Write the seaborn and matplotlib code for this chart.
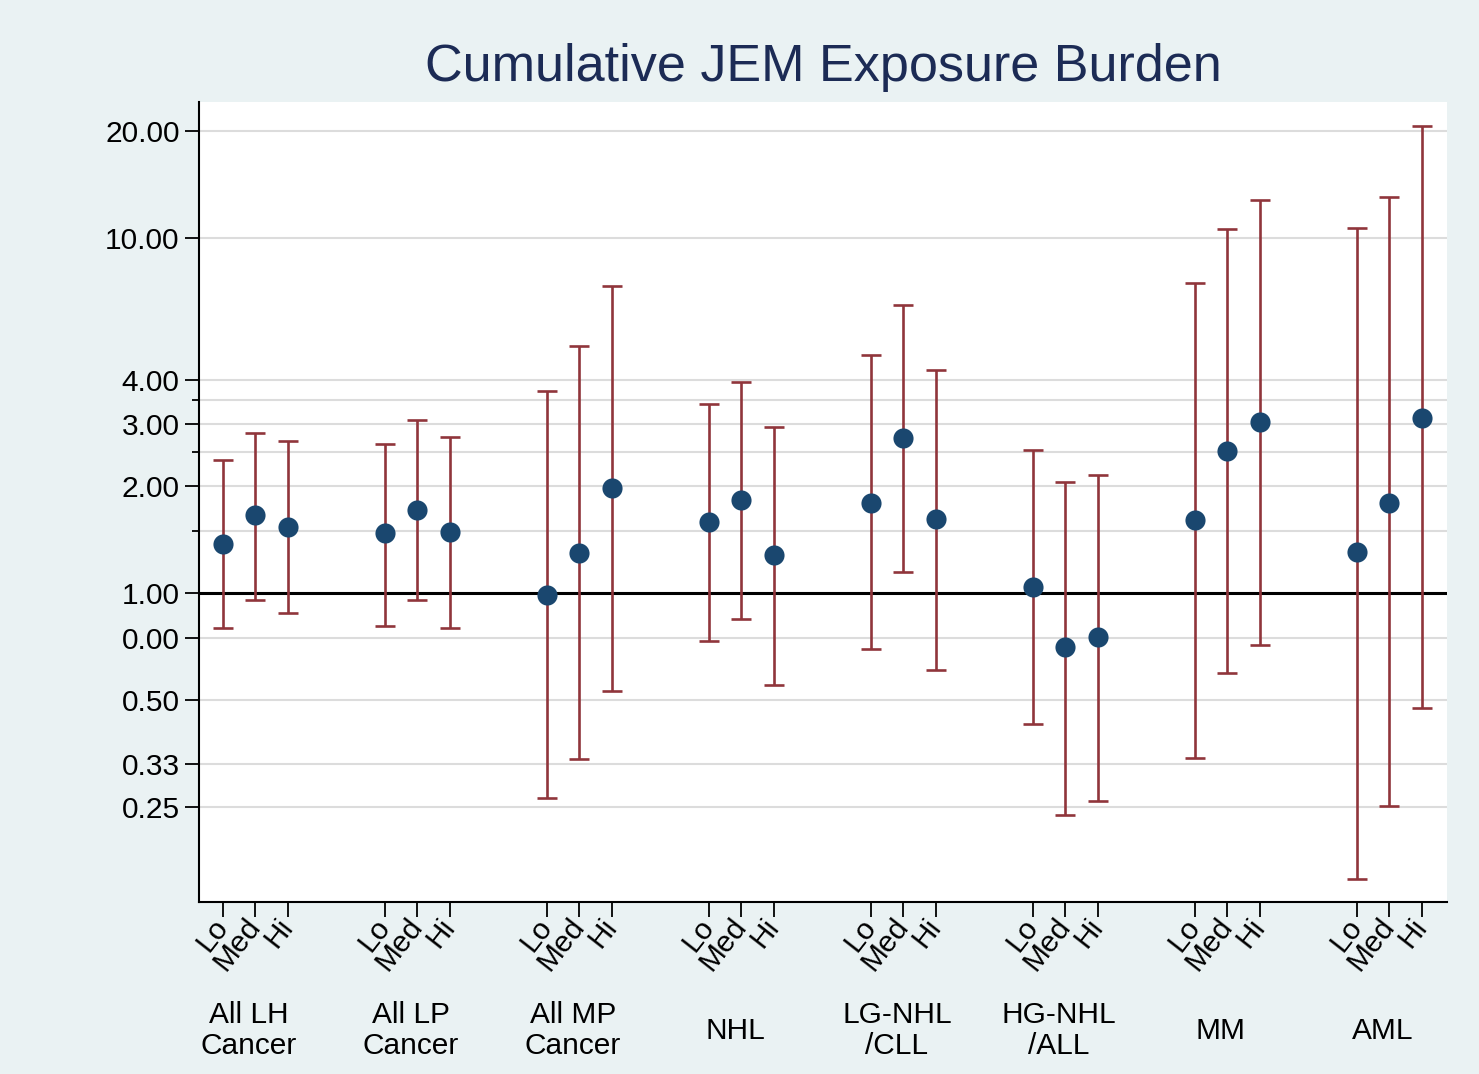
import numpy as np
import pandas as pd
import matplotlib
matplotlib.use("Agg")
import matplotlib.pyplot as plt
import matplotlib.transforms as mtransforms
import seaborn as sns

# ---- data ----
groups = ["All LH\nCancer", "All LP\nCancer", "All MP\nCancer", "NHL",
          "LG-NHL\n/CLL", "HG-NHL\n/ALL", "MM", "AML"]
levels = ["Lo", "Med", "Hi"]
estimate = [1.38, 1.66, 1.54,
            1.48, 1.72, 1.49,
            0.99, 1.30, 1.98,
            1.59, 1.83, 1.28,
            1.80, 2.73, 1.62,
            1.04, 0.705, 0.752,
            1.61, 2.51, 3.03,
            1.31, 1.80, 3.11]
ci_low = [0.80, 0.96, 0.88,
          0.81, 0.96, 0.80,
          0.265, 0.341, 0.530,
          0.732, 0.845, 0.551,
          0.695, 1.146, 0.607,
          0.428, 0.238, 0.260,
          0.343, 0.595, 0.714,
          0.157, 0.251, 0.474]
ci_high = [2.37, 2.82, 2.68,
           2.63, 3.07, 2.75,
           3.71, 4.96, 7.32,
           3.41, 3.93, 2.94,
           4.68, 6.48, 4.25,
           2.53, 2.06, 2.16,
           7.47, 10.6, 12.8,
           10.7, 13.05, 20.7]
ytick_vals = [0.25, 0.33, 0.5, 0.75, 1, 2, 3, 4, 10, 20]
ytick_labels = ["0.25", "0.33", "0.50", "0.00", "1.00", "2.00", "3.00", "4.00", "10.00", "20.00"]
yminor_vals = [1.5, 2.5, 3.5]
title = "Cumulative JEM Exposure Burden"

# ---- build table ----
rows = []
for gi, g in enumerate(groups):
    for li, lv in enumerate(levels):
        k = gi * 3 + li
        rows.append(dict(group=g, level=lv, x=gi * 5 + li,
                         est=estimate[k], lo=ci_low[k], hi=ci_high[k]))
df = pd.DataFrame(rows)

sns.set_theme(style="white")
plt.rcParams['font.family'] = ['Liberation Sans', 'DejaVu Sans']

BG = "#EAF2F3"
NAVY = "#1a476f"
TITLE = "#1c2b55"
RED = "#90353b"
FS = 21.5

fig = plt.figure(figsize=(14.79, 10.74), dpi=100, facecolor=BG)
W, H = 1479, 1074
ax = fig.add_axes([199 / W, (H - 902) / H, (1447 - 199) / W, (902 - 102) / H])
ax.set_facecolor("white")
ax.set_yscale("log")

# gridlines
for v in ytick_vals + yminor_vals:
    ax.axhline(v, color="#dcdcdc", lw=1.5, zorder=0)
ax.axhline(1.0, color="black", lw=2.2, zorder=1)

# error bars
ax.errorbar(df["x"], df["est"],
            yerr=[df["est"] - df["lo"], df["hi"] - df["est"]],
            fmt="none", ecolor=RED, elinewidth=1.9, capsize=7.5, capthick=1.9, zorder=2)
# points
sns.scatterplot(data=df, x="x", y="est", ax=ax, color=NAVY, s=210,
                edgecolor=NAVY, linewidth=0, zorder=3, legend=False)

ax.set_xlim(-0.74, 37.78)
ax.set_ylim(0.135, 24.2)

ax.set_yticks(ytick_vals)
ax.set_yticklabels(ytick_labels)
ax.set_yticks(yminor_vals, minor=True)
ax.yaxis.set_minor_formatter(matplotlib.ticker.NullFormatter())
ax.tick_params(axis="y", which="major", length=10, width=1.3, color="black",
               labelsize=FS, labelcolor="black", pad=4, left=True)
ax.tick_params(axis="y", which="minor", length=5, width=1.3, color="black", left=True)

ax.set_xticks(df["x"])
ax.set_xticklabels(df["level"], rotation=52, ha="right", va="center",
                   rotation_mode="anchor")
ax.tick_params(axis="x", which="major", length=11, width=1.3, color="black",
               labelsize=FS, labelcolor="black", pad=3, bottom=True)

ax.set_xlabel("")
ax.set_ylabel("")

for side in ["top", "right"]:
    ax.spines[side].set_visible(False)
for side in ["left", "bottom"]:
    ax.spines[side].set_color("black")
    ax.spines[side].set_linewidth(1.5)

# group labels
trans = mtransforms.blended_transform_factory(ax.transData, ax.transAxes)
for gi, g in enumerate(groups):
    ax.text(gi * 5 + 1 - 0.2, -0.161, g, transform=trans, ha="center", va="center",
            fontsize=FS, color="black", linespacing=1.15)

fig.text((199 + 1447) / 2 / W, 1 - 67 / H, title, ha="center", va="center",
         fontsize=37.5, color=TITLE)

fig.savefig("out.png", dpi=100, facecolor=BG)
